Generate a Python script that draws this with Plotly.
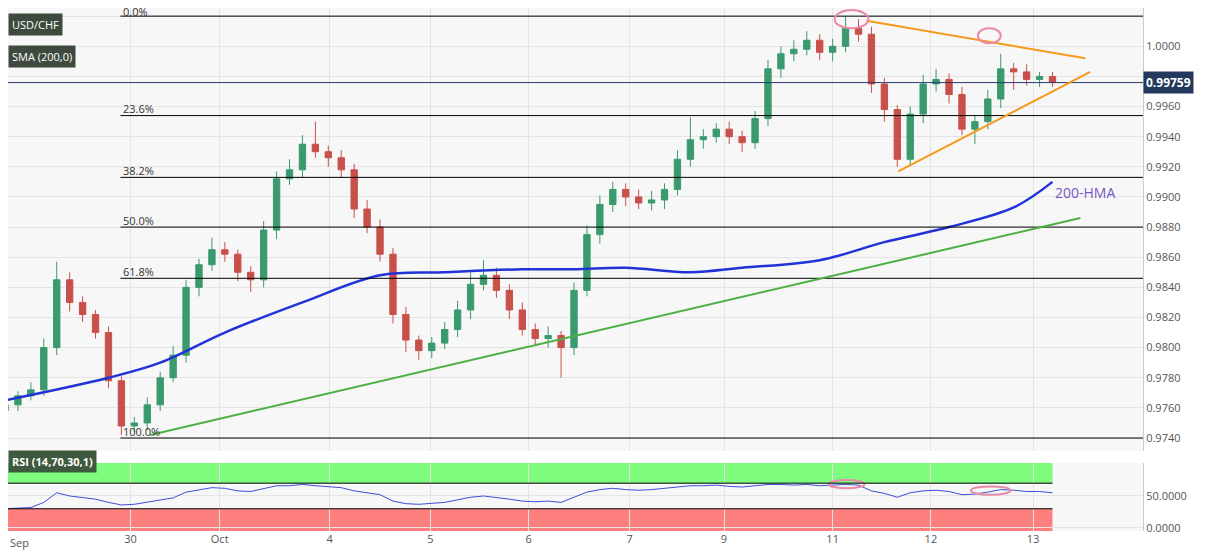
import plotly.graph_objects as go

close = [.9762,.9768,.9772,.9800,.9845,.9830,.9822,.9810,.9778,.9748,.9750,.9762,.9780,.9795,.9840,.9855,.9865,.9862,.9850,.9845,
         .9878,.9912,.9918,.9935,.9930,.9926,.9918,.9892,.9880,.9862,.9822,.9805,.9798,.9803,.9812,.9825,.9842,.9848,.9838,.9825,
         .9812,.9806,.9808,.9800,.9838,.9875,.9895,.9905,.9900,.9896,.9898,.9905,.9925,.9938,.9940,.9945,.9940,.9936,.9952,.9985,
         .9995,.9998,1.0004,.9996,1.0000,1.0012,1.0008,.9975,.9958,.9925,.9955,.9975,.9978,.9968,.9945,.9950,.9965,.9985,.9983,.9978,
         .9980,.9976]
first_open = .9758
up_wick = [4,3,5,6,12,5,4,3,4,3,4,5,4,6,5,4,8,5,3,4,
           6,5,7,6,15,4,5,4,6,5,4,5,3,4,5,6,8,10,5,4,
           5,4,6,3,5,6,6,5,4,5,6,4,6,15,5,4,5,4,5,6,
           5,6,6,4,5,8,6,5,4,3,5,6,7,4,5,4,6,10,4,5,
           3,3]
dn_wick = [5,4,3,4,5,6,5,4,5,6,4,5,4,3,5,6,4,5,6,8,
           5,6,4,5,4,6,5,6,4,5,6,8,6,5,4,5,6,4,5,6,
           4,5,6,20,5,4,6,5,6,4,5,6,4,5,6,4,5,6,4,5,
           6,5,4,5,6,4,5,6,8,5,4,6,5,6,4,10,5,6,12,4,
           5,3]
rsi = [30,31,32,40,55,50,48,45,40,36,37,40,44,47,56,60,63,62,58,57,
       62,66,66,68,66,65,63,58,55,52,42,38,37,38,40,44,48,50,48,45,
       42,41,42,40,48,56,60,62,60,59,60,62,64,66,66,67,65,64,66,68,
       68,67,68,66,67,68,67,58,54,48,55,58,59,57,52,53,56,60,59,57,
       57,55]
sma_x = [0,8,12,17,23,29,34,40,44,48,53,57,63,68,73,78,81]
sma_y = [.9765,.9780,.9790,.9810,.9830,.9848,.9850,.9852,.9852,.9853,.9850,.9853,.9858,.9870,.9880,.9893,.9910]
tick_pos = [9.7,16.6,25.1,32.9,40.5,48.3,55.6,64,71.6,79.5]
tick_txt = ["30","Oct","4","5","6","7","9","11","12","13"]
first_tick_txt = "Sep"
fib_lvls = [1.0020,.9954,.9913,.9880,.9846,.9740]
fib_txt = ["0.0%","23.6%","38.2%","50.0%","61.8%","100.0%"]
last_price = 0.99759

def px(p):  # reference pixel -> candle index
    return (p - 4) / 13

x = list(range(len(close)))
opens = [first_open] + close[:-1]
high = [max(o, c) + u * 1e-4 for o, c, u in zip(opens, close, up_wick)]
low = [min(o, c) - d * 1e-4 for o, c, d in zip(opens, close, dn_wick)]

fig = go.Figure()
fig.add_trace(go.Candlestick(x=x, open=opens, high=high, low=low, close=close,
    increasing=dict(line=dict(color="#3a9a6e", width=1), fillcolor="#3a9a6e"),
    decreasing=dict(line=dict(color="#c8504a", width=1), fillcolor="#c8504a"),
    whiskerwidth=0, showlegend=False, yaxis="y"))
fig.add_trace(go.Scatter(x=sma_x, y=sma_y, mode="lines", line=dict(color="#1f33d6", width=2.5, shape="spline"),
                         showlegend=False, yaxis="y"))
fig.add_trace(go.Scatter(x=x, y=rsi, mode="lines", line=dict(color="#3c50d8", width=1), showlegend=False, yaxis="y2"))

shapes = []
x0, x1 = px(7), px(1148)
for i, (lv, t) in enumerate(zip(fib_lvls, fib_txt)):
    shapes.append(dict(type="line", x0=px(120), x1=x1, y0=lv, y1=lv, yref="y", line=dict(color="black", width=1)))
    fig.add_annotation(x=px(121), y=lv, text=t, showarrow=False, xanchor="left",
                       yanchor="middle", yshift=5 if i == 0 else 7,
                       font=dict(size=11, color="#333"), yref="y")
shapes.append(dict(type="line", x0=x0, x1=x1, y0=last_price, y1=last_price, yref="y", line=dict(color="#2a3a6a", width=1)))
shapes += [
    dict(type="line", x0=px(870), y0=1.0017, x1=px(1090), y1=0.9992, yref="y", line=dict(color="#f59a1c", width=2)),
    dict(type="line", x0=px(902), y0=0.9917, x1=px(1095), y1=0.9983, yref="y", line=dict(color="#f59a1c", width=2)),
    dict(type="line", x0=px(150), y0=0.9742, x1=px(1085), y1=0.9886, yref="y", line=dict(color="#4cb043", width=2)),
    dict(type="circle", x0=px(838), x1=px(872), y0=1.0012, y1=1.0024, yref="y", line=dict(color="#e88aa8", width=2)),
    dict(type="circle", x0=px(982), x1=px(1005), y0=1.0002, y1=1.0012, yref="y", line=dict(color="#e88aa8", width=2)),
    dict(type="circle", x0=px(832), x1=px(868), y0=62, y1=75, yref="y2", line=dict(color="#e88aa8", width=2)),
    dict(type="circle", x0=px(975), x1=px(1015), y0=52, y1=65, yref="y2", line=dict(color="#e88aa8", width=2)),
    dict(type="rect", x0=x0, x1=px(1057), y0=70, y1=101.5, yref="y2", fillcolor="#7dfc7d", line=dict(width=0), layer="below"),
    dict(type="rect", x0=x0, x1=px(1057), y0=-4.7, y1=30, yref="y2", fillcolor="#ff7f7f", line=dict(width=0), layer="below"),
    dict(type="line", x0=x0, x1=px(1057), y0=70, y1=70, yref="y2", line=dict(color="black", width=1)),
    dict(type="line", x0=x0, x1=px(1057), y0=30, y1=30, yref="y2", line=dict(color="black", width=1)),
]
fig.add_annotation(x=px(1058), y=0.9903, text="200-HMA", showarrow=False, xanchor="left",
                   font=dict(size=14, color="#7a55c8"), yref="y")
fig.add_annotation(xref="paper", x=1.0, y=last_price, yref="y", text="<b>0.99759</b>", showarrow=False,
                   xanchor="left", bgcolor="#233a5e", font=dict(color="white", size=12), borderpad=2)
fig.add_annotation(xref="paper", yref="paper", x=0.0, y=0, yshift=-2, text=first_tick_txt, showarrow=False,
                   xanchor="left", yanchor="top", font=dict(size=11, color="#555"))
for txt, yy in [("USD/CHF", 0.99), ("SMA (200,0)", 0.93)]:
    fig.add_annotation(xref="paper", yref="paper", x=0.0, y=yy, text=txt, showarrow=False, xanchor="left",
                       bgcolor="#3e4a3e", font=dict(color="white", size=11), borderpad=3)
fig.add_annotation(xref="paper", yref="paper", x=0.0, y=0.11, text="<b>RSI (14,70,30,1)</b>", showarrow=False,
                   xanchor="left", bgcolor="#3e5a3e", font=dict(color="white", size=11), borderpad=3)

fig.update_layout(
    width=1207, height=555, margin=dict(l=0, r=72, t=0, b=32),
    plot_bgcolor="#f7f7f7", paper_bgcolor="white", shapes=shapes,
    xaxis=dict(range=[x0, x1], tickvals=tick_pos, ticktext=tick_txt, showgrid=True, gridcolor="#e4e4e4",
               rangeslider=dict(visible=False), tickfont=dict(size=11, color="#555"), zeroline=False, anchor="y2"),
    yaxis=dict(domain=[0.153, 1], side="right", range=[0.97314, 1.00254], tickformat=".4f", dtick=0.002,
               gridcolor="#e4e4e4", tickfont=dict(size=11, color="#555"), zeroline=False, showline=True, linecolor="#ccc"),
    yaxis2=dict(domain=[0, 0.13], side="right", range=[-4.7, 101.5], tickvals=[0, 50], tickformat=".4f",
                gridcolor="#e4e4e4", tickfont=dict(size=11, color="#555"), zeroline=False, showline=True, linecolor="#ccc"),
)
fig.write_html("out.html")
